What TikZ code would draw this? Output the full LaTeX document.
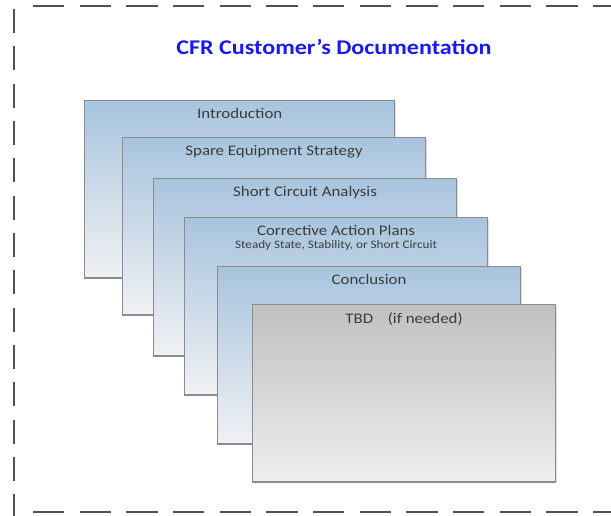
\documentclass[tikz,border=0pt]{standalone}
\usepackage{fontspec}
\setmainfont{Carlito}[FakeStretch=1.15]
\usetikzlibrary{shadows}

\definecolor{cfrblue}{RGB}{25,25,240}
\definecolor{paneltop}{RGB}{168,196,222}
\definecolor{panelbot}{RGB}{240,241,244}
\definecolor{tbdtop}{RGB}{192,192,192}
\definecolor{tbdbot}{RGB}{238,238,238}
\definecolor{edge}{RGB}{140,140,140}
\definecolor{ink}{RGB}{60,60,60}

\tikzset{
    panel/.style={draw=edge, line width=1.1pt, anchor=north west,
        minimum width=227pt, minimum height=133pt, inner sep=0pt,
        top color=paneltop, bottom color=panelbot,
        drop shadow={shadow xshift=1pt, shadow yshift=-1pt, opacity=.25}},
    tbdpanel/.style={panel, top color=tbdtop, bottom color=tbdbot},
    caption/.style={text=ink, font=\fontsize{11}{12}\selectfont, align=center, anchor=north}
}

\begin{document}
\begin{tikzpicture}[x=0.75pt, y=-0.75pt] %1 unit = 1 px of the reference
    \useasboundingbox (0, 0) rectangle (611, 515);
    % dashed frame, its right side lies outside the picture
    \draw[line width=2.2pt, color=black!68, dash pattern=on 18pt off 10pt] (14, 9) -- (14, 520);
    \draw[line width=2.2pt, color=black!68, dash pattern=on 23.5pt off 11.5pt] (33, 6) -- (640, 6);
    \draw[line width=2.2pt, color=black!68, dash pattern=on 23.5pt off 11.5pt] (33, 512) -- (640, 512);

    \node[font=\fontsize{15.7}{18}\selectfont\bfseries, text=cfrblue] (title) at (334, 47) {CFR Customer’s Documentation};

    % stacked sheets, later ones lie on top
    \node[panel, minimum width=232.5pt] (intro) at (84, 100) {};
    \node[caption] at ([yshift=-3pt]intro.north) {Introduction};
    \node[panel] (spare) at (122, 137) {};
    \node[caption] at ([yshift=-3pt]spare.north) {Spare Equipment Strategy};
    \node[panel] (short) at (153, 178) {};
    \node[caption] at ([yshift=-3pt]short.north) {Short Circuit Analysis};
    \node[panel] (plans) at (184, 217) {};
    \node[caption] at ([yshift=-3pt]plans.north) {Corrective Action Plans\\[-2.5pt]{\fontsize{8.6}{9}\selectfont Steady State, Stability, or Short Circuit}};
    \node[panel] (concl) at (217, 266) {};
    \node[caption] at ([yshift=-3pt]concl.north) {Conclusion};
    \node[tbdpanel] (tbd) at (252, 304) {};
    \node[caption] at ([yshift=-3pt]tbd.north) {TBD\hspace{1em}(if needed)};
\end{tikzpicture}
\end{document}
